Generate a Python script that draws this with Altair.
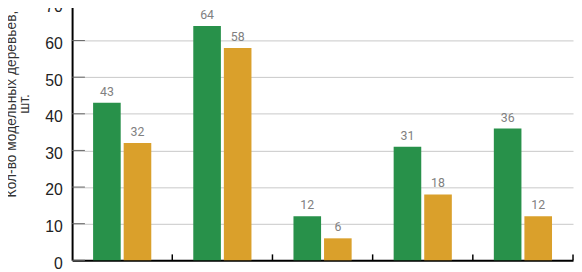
import altair as alt
import pandas as pd

groups = ["1", "2", "3", "4", "5"]
series = ["A", "B"]
green_vals = [43, 64, 12, 31, 36]
gold_vals = [32, 58, 6, 18, 12]
y_ticks = [0, 10, 20, 30, 40, 50, 60, 70]
colors = ["#28914a", "#daa02b"]
y_title = ["Кол-во модельных деревьев,", "шт."]

rows = []
for g, a, b in zip(groups, green_vals, gold_vals):
    rows.append({"group": g, "series": series[0], "value": a})
    rows.append({"group": g, "series": series[1], "value": b})
df = pd.DataFrame(rows)
gdf = pd.DataFrame({"group": groups})
tdf = pd.DataFrame({"value": y_ticks})

xscale = alt.Scale(paddingInner=0, paddingOuter=0)
offscale = alt.Scale(paddingInner=0.097, paddingOuter=0.687)
yscale = alt.Scale(domain=[0, 70])

x_axis = alt.Axis(labels=False, ticks=False, title=None, domainColor="#000",
                  domainWidth=2, grid=False)
y_axis = alt.Axis(values=y_ticks, title=y_title, titleFontSize=14,
                  titleFontWeight="normal", titleColor="#333",
                  titleFont="Liberation Sans", titleX=-54, titleY=101,
                  titleAlign="center", titleBaseline="bottom", titleLineHeight=13,
                  titleAngle=270,
                  labelFont="Liberation Sans", labelFontSize=16, labelOffset=3,
                  labelColor="#222", labelPadding=10, tickSize=0,
                  domainColor="#000", domainWidth=2,
                  gridColor="#c8c8c8", gridWidth=1)

xo = alt.XOffset("series:N", scale=offscale, sort=series)

bars = alt.Chart(df).mark_bar().encode(
    x=alt.X("group:N", scale=xscale, sort=groups, axis=x_axis),
    xOffset=xo,
    y=alt.Y("value:Q", scale=yscale, axis=y_axis),
    color=alt.Color("series:N", scale=alt.Scale(domain=series, range=colors), legend=None),
)

labels = alt.Chart(df).mark_text(dy=-11, fontSize=12.5, color="#808080",
                                 font="Roboto").encode(
    x=alt.X("group:N", sort=groups, axis=x_axis),
    xOffset=xo,
    y=alt.Y("value:Q", axis=y_axis),
    text="value:Q",
)

xticks = alt.Chart(gdf).mark_rule(color="#000", strokeWidth=1.5).encode(
    x=alt.X("group:N", sort=groups, bandPosition=1, axis=x_axis),
    y=alt.value(260),
    y2=alt.value(254),
)

yticks = alt.Chart(tdf).mark_rule(color="#666", strokeWidth=1).encode(
    y=alt.Y("value:Q", axis=y_axis),
    x=alt.value(0),
    x2=alt.value(13),
)

chart = alt.layer(bars, labels, xticks, yticks).properties(
    width=508, height=260,
    padding={"left": -4, "top": -11, "right": 0, "bottom": 0},
).configure_view(stroke=None)

chart.save("out.html", embed_options={"renderer": "svg", "actions": False})
